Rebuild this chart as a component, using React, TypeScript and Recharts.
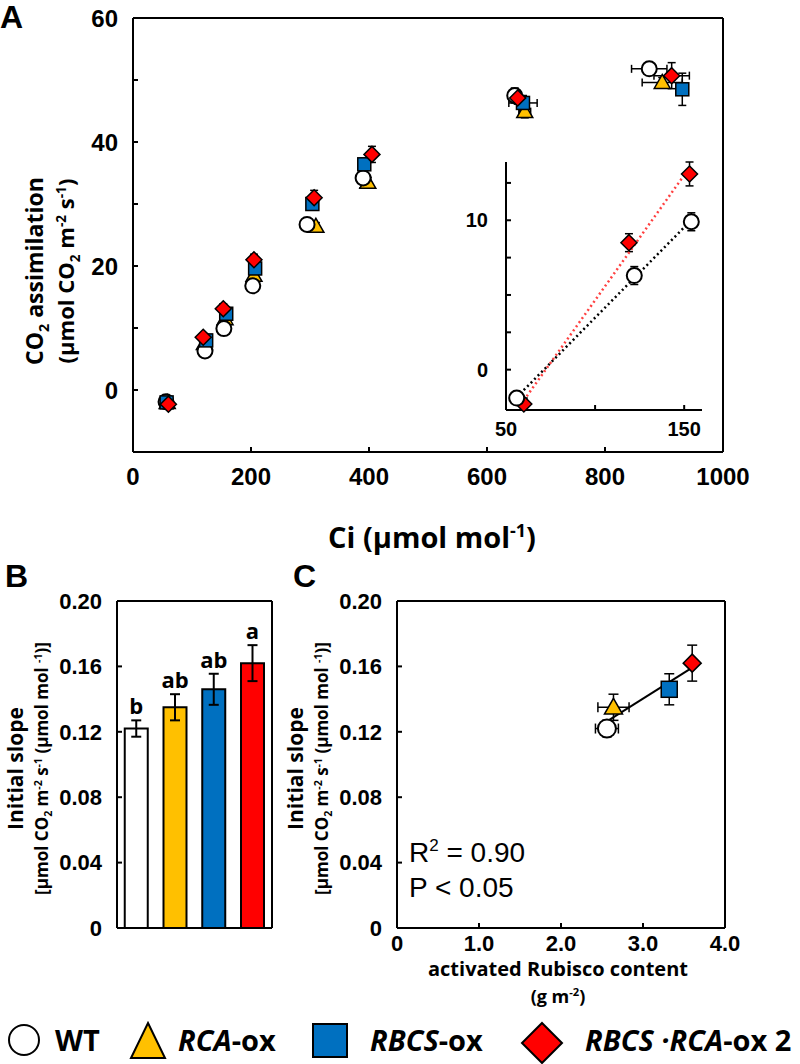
import React from "react";
import {
  ComposedChart,
  Scatter,
  Bar,
  Cell,
  XAxis,
  YAxis,
  ErrorBar,
  LabelList,
  Label,
} from "recharts";

const TICK_FONT = "'Liberation Sans', Arial, sans-serif";
const TITLE_FONT = "'Open Sans', 'Noto Sans', sans-serif";

const YELLOW = "#FFC000";
const BLUE = "#0070C0";
const RED = "#FF0000";

// ---- panel A: A/Ci response ----
const wtCi = [56, 122, 154, 203, 295, 390, 647, 875];
const wtA = [-1.9, 6.3, 9.9, 16.8, 26.7, 34.2, 47.5, 51.8];
const wtCiErr = [2, 2, 2, 3, 4, 5, 8, 30];
const wtAErr = [0.4, 0.6, 0.6, 0.5, 0.5, 1.6, 1.2, 0.8];

const rcaCi = [58, 121, 156, 205, 310, 398, 664, 897];
const rcaA = [-2.0, 7.5, 11.5, 18.5, 26.4, 33.5, 44.9, 49.6];
const rcaCiErr = [2, 2, 2, 3, 4, 5, 10, 34];
const rcaAErr = [0.4, 0.5, 0.5, 0.6, 0.6, 0.8, 1.0, 0.8];

const rbcsCi = [57, 124, 158, 207, 304, 392, 661, 931];
const rbcsA = [-2.0, 8.0, 12.3, 19.6, 30.0, 36.4, 46.3, 48.5];
const rbcsCiErr = [2, 2, 3, 3, 4, 5, 24, 10];
const rbcsAErr = [0.4, 0.6, 0.7, 0.8, 0.9, 1.0, 1.2, 2.6];

const dblCi = [60, 119, 153, 205, 307, 405, 652, 913];
const dblA = [-2.3, 8.5, 13.1, 21.0, 31.0, 38.0, 47.1, 50.7];
const dblCiErr = [2, 2, 2, 3, 4, 5, 8, 30];
const dblAErr = [0.4, 0.6, 0.8, 0.9, 1.2, 1.3, 1.0, 2.1];

const ciTicks = [0, 200, 400, 600, 800, 1000];
const aTicks = [0, 10, 20, 30, 40, 50, 60];
const insetCiTicks = [50, 100, 150];
const insetATicks = [0, 2.5, 5, 7.5, 10, 12.5];

// ---- panels B and C ----
const lines = ["WT", "RCA-ox", "RBCS-ox", "RBCS·RCA-ox 2"];
const slope = [0.122, 0.135, 0.146, 0.162];
const slopeErr = [0.005, 0.008, 0.0095, 0.011];
const letters = ["b", "ab", "ab", "a"];
const barColors = ["#FFFFFF", YELLOW, BLUE, RED];
const rubisco = [2.56, 2.64, 3.32, 3.6];
const rubiscoErr = [0.14, 0.19, 0.06, 0.04];
const slopeTicks = [0, 0.04, 0.08, 0.12, 0.16, 0.2];
const rubiscoTicks = [0, 1, 2, 3, 4];

type Pt = { x: number; y: number; ex: number; ey: number };

const toPts = (xs: number[], ys: number[], exs: number[], eys: number[]): Pt[] =>
  xs.map((x, i) => ({ x, y: ys[i], ex: exs[i], ey: eys[i] }));

const linFit = (pts: { x: number; y: number }[]) => {
  const n = pts.length;
  const mx = pts.reduce((s, p) => s + p.x, 0) / n;
  const my = pts.reduce((s, p) => s + p.y, 0) / n;
  let sxy = 0;
  let sxx = 0;
  pts.forEach((p) => {
    sxy += (p.x - mx) * (p.y - my);
    sxx += (p.x - mx) * (p.x - mx);
  });
  const b = sxy / sxx;
  const xs = [Math.min(...pts.map((p) => p.x)), Math.max(...pts.map((p) => p.x))];
  return xs.map((x) => ({ x, y: my + b * (x - mx) }));
};

const wtPts = toPts(wtCi, wtA, wtCiErr, wtAErr);
const rcaPts = toPts(rcaCi, rcaA, rcaCiErr, rcaAErr);
const rbcsPts = toPts(rbcsCi, rbcsA, rbcsCiErr, rbcsAErr);
const dblPts = toPts(dblCi, dblA, dblCiErr, dblAErr);

const insetWt = wtPts.filter((p) => p.x < 160);
const insetDbl = dblPts.filter((p) => p.x < 160);
const fitWt = linFit(insetWt);
const fitDbl = linFit(insetDbl);

const barData = lines.map((name, i) => ({ name, slope: slope[i], err: slopeErr[i], letter: letters[i] }));
const cPts = lines.map((_, i) => ({ x: rubisco[i], y: slope[i], ex: rubiscoErr[i], ey: slopeErr[i] }));
const fitC = linFit(cPts);

const axisLine = { stroke: "#000", strokeWidth: 2 };
const tickA = { fontSize: 24, fontWeight: 700, fill: "#000", fontFamily: TICK_FONT };
const tickSmall = { fontSize: 20, fontWeight: 700, fill: "#000", fontFamily: TICK_FONT };
const tickBC = { fontSize: 22, fontWeight: 700, fill: "#000", fontFamily: TICK_FONT };

type Kind = "wt" | "rca" | "rbcs" | "dbl";

const Marker = ({ kind, cx, cy, s }: { kind: Kind; cx?: number; cy?: number; s: number }) => {
  if (cx == null || cy == null) return null;
  if (kind === "wt")
    return <circle cx={cx} cy={cy} r={s} fill="#fff" stroke="#000" strokeWidth={2} />;
  if (kind === "rca")
    return (
      <polygon
        points={`${cx},${cy - s} ${cx + s},${cy + s * 0.75} ${cx - s},${cy + s * 0.75}`}
        fill={YELLOW}
        stroke="#000"
        strokeWidth={1.5}
      />
    );
  if (kind === "rbcs")
    return <rect x={cx - s} y={cy - s} width={2 * s} height={2 * s} fill={BLUE} stroke="#000" strokeWidth={1.5} />;
  return (
    <polygon
      points={`${cx},${cy - s} ${cx + s},${cy} ${cx},${cy + s} ${cx - s},${cy}`}
      fill={RED}
      stroke="#000"
      strokeWidth={1.5}
    />
  );
};

const shape = (kind: Kind, s: number) => (p: any) => <Marker kind={kind} s={s} cx={p.cx} cy={p.cy} />;
const noShape = () => <g />;

// text with sub/superscripts: [text, 1 = sup, -1 = sub]
type Seg = [string, number?];
const Rich = ({ segs, fs }: { segs: Seg[]; fs: number }) => {
  let cur = 0;
  return (
    <>
      {segs.map(([t, k = 0], i) => {
        const target = k === 1 ? -fs * 0.38 : k === -1 ? fs * 0.25 : 0;
        const dy = target - cur;
        cur = target;
        return (
          <tspan key={i} dy={dy} fontSize={k ? fs * 0.62 : fs}>
            {t}
          </tspan>
        );
      })}
    </>
  );
};

const RotText = ({ x, y, fs, segs }: { x: number; y: number; fs: number; segs: Seg[] }) => (
  <text
    x={x}
    y={y}
    transform={`rotate(-90 ${x} ${y})`}
    textAnchor="middle"
    fontFamily={TITLE_FONT}
    fontWeight={700}
    fontSize={fs}
    fill="#000"
  >
    <Rich segs={segs} fs={fs} />
  </text>
);

const AYLabel = (props: any) => {
  const vb = props.viewBox;
  const cy = vb.y + vb.height / 2 + 36;
  return (
    <g>
      <RotText x={vb.x + 43} y={cy} fs={23} segs={[["CO"], ["2", -1], [" assimilation"]]} />
      <RotText
        x={vb.x + 74}
        y={cy}
        fs={22}
        segs={[["(µmol CO"], ["2", -1], [" m"], ["-2", 1], [" s"], ["-1", 1], [")"]]}
      />
    </g>
  );
};

const AXLabel = (props: any) => {
  const vb = props.viewBox;
  return (
    <text
      x={vb.x + vb.width / 2 + 4}
      y={vb.y + 96}
      textAnchor="middle"
      fontFamily={TITLE_FONT}
      fontWeight={700}
      fontSize={29}
      fill="#000"
    >
      <Rich segs={[["Ci (µmol mol"], ["-1", 1], [")"]]} fs={29} />
    </text>
  );
};

const SlopeYLabel = (props: any) => {
  const vb = props.viewBox;
  const cy = vb.y + vb.height / 2 + 4;
  return (
    <g>
      <RotText x={vb.x + 23} y={cy} fs={21} segs={[["Initial slope"]]} />
      <RotText
        x={vb.x + 48}
        y={cy}
        fs={17}
        segs={[["[µmol CO"], ["2", -1], [" m"], ["-2", 1], [" s"], ["-1", 1], [" (µmol mol "], ["-1", 1], [")]"]]}
      />
    </g>
  );
};

const CXLabel = (props: any) => {
  const vb = props.viewBox;
  const cx = vb.x + vb.width / 2 - 3;
  return (
    <g fontFamily={TITLE_FONT} fontWeight={700} fill="#000">
      <text x={cx} y={vb.y + 48} textAnchor="middle" fontSize={20}>
        activated Rubisco content
      </text>
      <text x={cx} y={vb.y + 75} textAnchor="middle" fontSize={18}>
        <Rich segs={[["(g m"], ["-2", 1], [")"]]} fs={18} />
      </text>
    </g>
  );
};

const LetterLabel = (props: any) => {
  const { x, y, width, height, value, index } = props;
  const v = slope[index];
  const errPx = (slopeErr[index] * height) / v;
  return (
    <text
      x={x + width / 2}
      y={y - errPx - 6}
      textAnchor="middle"
      fontFamily={TITLE_FONT}
      fontWeight={700}
      fontSize={22}
      fill="#000"
    >
      {value}
    </text>
  );
};

const fmtSlope = (v: number) => (v === 0 ? "0" : v.toFixed(2));

const PanelA = () => (
  <ComposedChart width={760} height={560} margin={{ top: 17, right: 36, left: 0, bottom: 0 }}>
    <XAxis
      type="number"
      dataKey="x"
      domain={[0, 1000]}
      ticks={ciTicks}
      height={108}
      tickSize={-5}
      tickMargin={21}
      axisLine={axisLine}
      tickLine={axisLine}
      tick={tickA}
    >
      <Label content={AXLabel} />
    </XAxis>
    <YAxis
      type="number"
      dataKey="y"
      domain={[-10, 60]}
      ticks={aTicks}
      width={133}
      tickSize={-5}
      tickMargin={20}
      axisLine={axisLine}
      tickLine={axisLine}
      tick={tickA}
      tickFormatter={(v: number) => (v % 20 === 0 ? String(v) : "")}
    >
      <Label content={AYLabel} />
    </YAxis>
    <XAxis xAxisId="top" orientation="top" type="number" domain={[0, 1000]} height={1} tick={false} tickLine={false} axisLine={axisLine} />
    <YAxis yAxisId="right" orientation="right" type="number" domain={[-10, 60]} width={1} tick={false} tickLine={false} axisLine={axisLine} />
    <Scatter data={rcaPts} dataKey="y" shape={shape("rca", 8)} isAnimationActive={false}>
      <ErrorBar dataKey="ey" direction="y" width={4} stroke="#000" strokeWidth={1.5} />
      <ErrorBar dataKey="ex" direction="x" width={4} stroke="#000" strokeWidth={1.5} />
    </Scatter>
    <Scatter data={wtPts} dataKey="y" shape={shape("wt", 7.5)} isAnimationActive={false}>
      <ErrorBar dataKey="ey" direction="y" width={4} stroke="#000" strokeWidth={1.5} />
      <ErrorBar dataKey="ex" direction="x" width={4} stroke="#000" strokeWidth={1.5} />
    </Scatter>
    <Scatter data={rbcsPts} dataKey="y" shape={shape("rbcs", 6.5)} isAnimationActive={false}>
      <ErrorBar dataKey="ey" direction="y" width={4} stroke="#000" strokeWidth={1.5} />
      <ErrorBar dataKey="ex" direction="x" width={4} stroke="#000" strokeWidth={1.5} />
    </Scatter>
    <Scatter data={dblPts} dataKey="y" shape={shape("dbl", 8)} isAnimationActive={false}>
      <ErrorBar dataKey="ey" direction="y" width={4} stroke="#000" strokeWidth={1.5} />
      <ErrorBar dataKey="ex" direction="x" width={4} stroke="#000" strokeWidth={1.5} />
    </Scatter>
  </ComposedChart>
);

const Inset = () => (
  <ComposedChart width={280} height={300} margin={{ top: 12, right: 18, left: 0, bottom: 0 }}>
    <XAxis
      type="number"
      dataKey="x"
      domain={[50, 160]}
      ticks={insetCiTicks}
      height={40}
      tickSize={-5}
      tickMargin={17}
      axisLine={axisLine}
      tickLine={axisLine}
      tick={tickSmall}
      tickFormatter={(v: number) => (v === 100 ? "" : String(v))}
    />
    <YAxis
      type="number"
      dataKey="y"
      domain={[-2.5, 13.5]}
      ticks={insetATicks}
      width={66}
      tickSize={-5}
      tickMargin={23}
      axisLine={axisLine}
      tickLine={axisLine}
      tick={tickSmall}
      tickFormatter={(v: number) => (v === 0 || v === 10 ? String(v) : "")}
    />
    <Scatter data={fitDbl} dataKey="y" shape={noShape} line={{ stroke: "#FF4040", strokeWidth: 2.5, strokeDasharray: "2 3" }} isAnimationActive={false} />
    <Scatter data={fitWt} dataKey="y" shape={noShape} line={{ stroke: "#000", strokeWidth: 2.5, strokeDasharray: "2 3" }} isAnimationActive={false} />
    <Scatter data={insetDbl} dataKey="y" shape={shape("dbl", 8)} isAnimationActive={false}>
      <ErrorBar dataKey="ey" direction="y" width={4} stroke="#000" strokeWidth={1.5} />
    </Scatter>
    <Scatter data={insetWt} dataKey="y" shape={shape("wt", 7.5)} isAnimationActive={false}>
      <ErrorBar dataKey="ey" direction="y" width={4} stroke="#000" strokeWidth={1.5} />
    </Scatter>
  </ComposedChart>
);

const PanelB = () => (
  <ComposedChart width={300} height={470} data={barData} margin={{ top: 60, right: 27, left: 0, bottom: 0 }} barCategoryGap="20%">
    <XAxis dataKey="name" height={82} tick={false} tickLine={false} axisLine={axisLine} />
    <YAxis
      type="number"
      domain={[0, 0.2]}
      ticks={slopeTicks}
      width={117}
      tickSize={-5}
      tickMargin={20}
      axisLine={axisLine}
      tickLine={axisLine}
      tick={tickBC}
      tickFormatter={fmtSlope}
    >
      <Label content={SlopeYLabel} />
    </YAxis>
    <XAxis xAxisId="top" orientation="top" type="number" domain={[0, 1]} height={1} tick={false} tickLine={false} axisLine={axisLine} />
    <YAxis yAxisId="right" orientation="right" type="number" domain={[0, 0.2]} width={1} tick={false} tickLine={false} axisLine={axisLine} />
    <Bar dataKey="slope" stroke="#000" strokeWidth={2} isAnimationActive={false}>
      {barData.map((d, i) => (
        <Cell key={d.name} fill={barColors[i]} />
      ))}
      <ErrorBar dataKey="err" width={5} stroke="#000" strokeWidth={2} />
      <LabelList dataKey="letter" content={LetterLabel} />
    </Bar>
  </ComposedChart>
);

const PanelC = () => (
  <ComposedChart width={470} height={470} margin={{ top: 60, right: 24, left: 0, bottom: 0 }}>
    <XAxis
      type="number"
      dataKey="x"
      domain={[0, 4]}
      ticks={rubiscoTicks}
      height={82}
      tickSize={-5}
      tickMargin={12}
      axisLine={axisLine}
      tickLine={axisLine}
      tick={tickBC}
      tickFormatter={(v: number) => (v === 0 ? "0" : v.toFixed(1))}
    >
      <Label content={CXLabel} />
    </XAxis>
    <YAxis
      type="number"
      dataKey="y"
      domain={[0, 0.2]}
      ticks={slopeTicks}
      width={117}
      tickSize={-5}
      tickMargin={20}
      axisLine={axisLine}
      tickLine={axisLine}
      tick={tickBC}
      tickFormatter={fmtSlope}
    >
      <Label content={SlopeYLabel} />
    </YAxis>
    <XAxis xAxisId="top" orientation="top" type="number" domain={[0, 4]} height={1} tick={false} tickLine={false} axisLine={axisLine} />
    <YAxis yAxisId="right" orientation="right" type="number" domain={[0, 0.2]} width={1} tick={false} tickLine={false} axisLine={axisLine} />
    <Scatter data={fitC} dataKey="y" shape={noShape} line={{ stroke: "#000", strokeWidth: 2 }} isAnimationActive={false} />
    {(["wt", "rca", "rbcs", "dbl"] as Kind[]).map((k, i) => (
      <Scatter
        key={k}
        data={[cPts[i]]}
        dataKey="y"
        shape={shape(k, k === "rbcs" ? 8 : 9)}
        isAnimationActive={false}
      >
        <ErrorBar dataKey="ey" direction="y" width={5} stroke="#000" strokeWidth={1.5} />
        <ErrorBar dataKey="ex" direction="x" width={5} stroke="#000" strokeWidth={1.5} />
      </Scatter>
    ))}
  </ComposedChart>
);

const Overlay = () => (
  <svg width={800} height={1064} style={{ position: "absolute", left: 0, top: 0, pointerEvents: "none" }}>
    <g fontFamily={TICK_FONT} fontWeight={700} fontSize={32} fill="#000">
      <text x={0} y={28}>A</text>
      <text x={5} y={587}>B</text>
      <text x={293} y={587}>C</text>
    </g>
    <g fontFamily={TICK_FONT} fontSize={28} fill="#000">
      <text x={409} y={862}>
        R<tspan fontSize={17} dy={-11}>2</tspan>
        <tspan dy={11}> = 0.90</tspan>
      </text>
      <text x={409} y={897}>P &lt; 0.05</text>
    </g>
    {/* legend */}
    <circle cx={24} cy={1040} r={15} fill="#fff" stroke="#000" strokeWidth={2} />
    <polygon points="148,1023 165,1058 131,1058" fill={YELLOW} stroke="#000" strokeWidth={2} />
    <rect x={313} y={1024} width={34} height={33} fill={BLUE} stroke="#000" strokeWidth={2} />
    <polygon points="542,1023 562,1043 542,1063 522,1043" fill={RED} stroke="#000" strokeWidth={2} />
    <g fontFamily={TITLE_FONT} fontWeight={700} fontSize={29} fill="#000">
      <text x={55} y={1051}>WT</text>
      <text x={178} y={1051}>
        <tspan fontStyle="italic">RCA</tspan>-ox
      </text>
      <text x={370} y={1051}>
        <tspan fontStyle="italic">RBCS</tspan>-ox
      </text>
      <text x={585} y={1051}>
        <tspan fontStyle="italic">RBCS ·RCA</tspan>-ox 2
      </text>
    </g>
  </svg>
);

export default function App() {
  return (
    <div style={{ position: "absolute", left: 0, top: 0, width: 800, height: 1064, background: "#fff" }}>
      <div style={{ position: "absolute", left: 0, top: 0 }}>
        <PanelA />
      </div>
      <div style={{ position: "absolute", left: 440, top: 150 }}>
        <Inset />
      </div>
      <div style={{ position: "absolute", left: 0, top: 540 }}>
        <PanelB />
      </div>
      <div style={{ position: "absolute", left: 280, top: 540 }}>
        <PanelC />
      </div>
      <Overlay />
    </div>
  );
}
